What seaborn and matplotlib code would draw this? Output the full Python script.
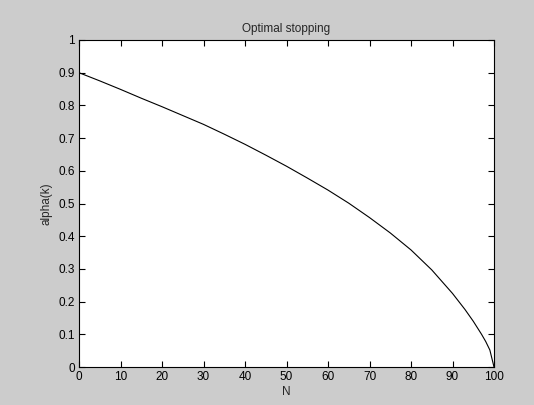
import matplotlib
matplotlib.use('Agg')
import matplotlib.pyplot as plt
import numpy as np
import pandas as pd
import seaborn as sns

# values
N = [0, 5, 10, 15, 20, 25, 30, 35, 40, 45, 50, 55, 60, 65, 70, 75, 80, 85,
     90, 93, 95, 97, 98, 99, 100]
alpha_k = [0.900, 0.875, 0.849, 0.822, 0.796, 0.769, 0.742, 0.712, 0.681, 0.648,
           0.614, 0.578, 0.541, 0.501, 0.457, 0.410, 0.358, 0.297,
           0.225, 0.176, 0.140, 0.100, 0.078, 0.052, 0.0]
x_ticks = list(range(0, 101, 10))
y_ticks = [i / 10 for i in range(11)]
y_labels = ['0', '0.1', '0.2', '0.3', '0.4', '0.5', '0.6', '0.7', '0.8', '0.9', '1']

sns.set_style('ticks')
plt.rcParams['font.family'] = ['Liberation Sans', 'DejaVu Sans']
plt.rcParams['font.size'] = 8.5

df = pd.DataFrame({'N': N, 'alpha(k)': alpha_k})

fig = plt.figure(figsize=(5.34, 4.05), dpi=100, facecolor='#cccccc')
ax = fig.add_axes([79 / 534, 1 - 367 / 405, 415 / 534, 327 / 405])
ax.set_facecolor('white')
sns.lineplot(data=df, x='N', y='alpha(k)', color='black', linewidth=0.8, ax=ax)

ax.set_xlim(0, 100)
ax.set_ylim(0, 1)
ax.set_xticks(x_ticks)
ax.set_yticks(y_ticks)
ax.set_yticklabels(y_labels)
ax.tick_params(direction='in', length=4, width=0.8, top=True, right=True,
               labelsize=8.5, colors='black', pad=3)
for s in ax.spines.values():
    s.set_linewidth(0.8)
    s.set_color('black')
ax.set_xlabel('N', fontsize=8.5, labelpad=2)
ax.set_ylabel('alpha(k)', fontsize=8.5, labelpad=4)
ax.set_title('Optimal stopping', fontsize=8.5, pad=6)

fig.savefig('out.png', dpi=100, facecolor=fig.get_facecolor())
